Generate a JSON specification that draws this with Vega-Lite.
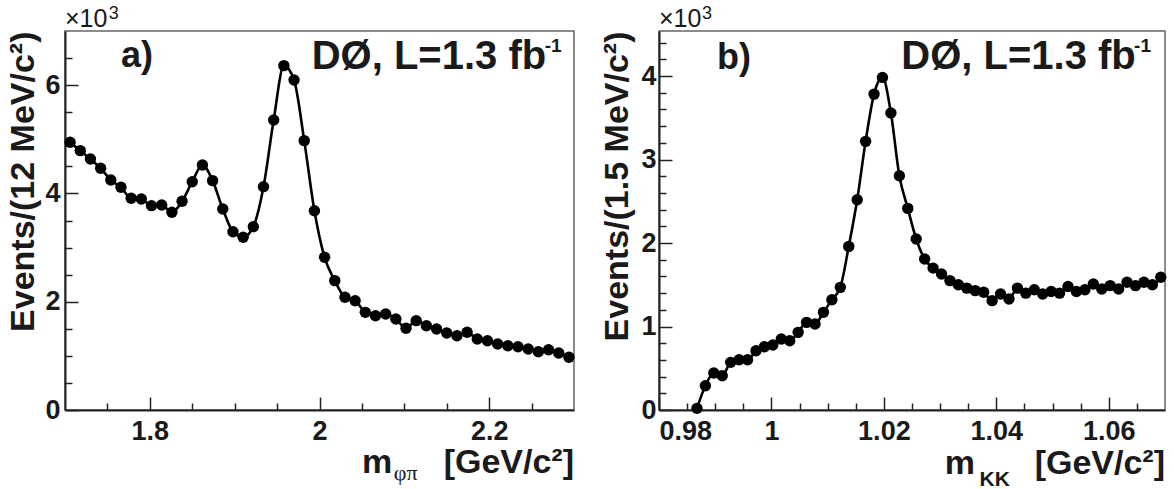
{
  "$schema": "https://vega.github.io/schema/vega-lite/v6.json",
  "background": "white",
  "padding": {"left": 6, "top": 4, "right": 6, "bottom": 2},
  "bounds": "flush",
  "spacing": 85,
  "config": {
    "font": "Liberation Sans",
    "view": {"stroke": "#666", "strokeWidth": 1.5},
    "axis": {
      "grid": false,
      "labelFont": "Liberation Sans",
      "labelFontWeight": "bold",
      "labelFontSize": 27,
      "labelColor": "#1a1a1a",
      "domainColor": "#222",
      "domainWidth": 2,
      "tickColor": "#222",
      "tickWidth": 1.5,
      "titleFont": "Liberation Sans",
      "titleFontWeight": "bold",
      "titleFontSize": 34,
      "titleColor": "#1a1a1a"
    },
    "text": {"font": "Liberation Sans", "fontWeight": "bold", "color": "#1a1a1a"}
  },
  "datasets": {
    "dsphi": [
      {"m": 1.706, "events": 4944}, {"m": 1.718, "events": 4790}, {"m": 1.730, "events": 4636},
      {"m": 1.742, "events": 4464}, {"m": 1.754, "events": 4248}, {"m": 1.766, "events": 4113},
      {"m": 1.778, "events": 3910}, {"m": 1.790, "events": 3897}, {"m": 1.802, "events": 3774},
      {"m": 1.814, "events": 3786}, {"m": 1.826, "events": 3651}, {"m": 1.838, "events": 3855},
      {"m": 1.850, "events": 4217}, {"m": 1.862, "events": 4525}, {"m": 1.874, "events": 4236},
      {"m": 1.886, "events": 3713}, {"m": 1.898, "events": 3293}, {"m": 1.910, "events": 3190},
      {"m": 1.922, "events": 3386}, {"m": 1.934, "events": 4125}, {"m": 1.946, "events": 5356},
      {"m": 1.958, "events": 6360}, {"m": 1.970, "events": 6095}, {"m": 1.982, "events": 4975},
      {"m": 1.994, "events": 3681}, {"m": 2.006, "events": 2820}, {"m": 2.018, "events": 2389},
      {"m": 2.030, "events": 2082}, {"m": 2.042, "events": 2019}, {"m": 2.054, "events": 1804},
      {"m": 2.066, "events": 1742}, {"m": 2.078, "events": 1773}, {"m": 2.090, "events": 1681},
      {"m": 2.102, "events": 1509}, {"m": 2.114, "events": 1650}, {"m": 2.126, "events": 1557},
      {"m": 2.138, "events": 1496}, {"m": 2.150, "events": 1422}, {"m": 2.162, "events": 1372},
      {"m": 2.174, "events": 1435}, {"m": 2.186, "events": 1311}, {"m": 2.198, "events": 1280},
      {"m": 2.210, "events": 1219}, {"m": 2.222, "events": 1188}, {"m": 2.234, "events": 1169},
      {"m": 2.246, "events": 1127}, {"m": 2.258, "events": 1077}, {"m": 2.270, "events": 1114},
      {"m": 2.282, "events": 1053}, {"m": 2.294, "events": 973}
    ],
    "kk": [
      {"m": 0.98675, "events": 20}, {"m": 0.98825, "events": 291}, {"m": 0.98975, "events": 443},
      {"m": 0.99125, "events": 411}, {"m": 0.99275, "events": 571}, {"m": 0.99425, "events": 602},
      {"m": 0.99575, "events": 602}, {"m": 0.99725, "events": 710}, {"m": 0.99875, "events": 758},
      {"m": 1.00025, "events": 778}, {"m": 1.00175, "events": 850}, {"m": 1.00325, "events": 830},
      {"m": 1.00475, "events": 930}, {"m": 1.00625, "events": 1050}, {"m": 1.00775, "events": 1030},
      {"m": 1.00925, "events": 1170}, {"m": 1.01075, "events": 1321}, {"m": 1.01225, "events": 1469},
      {"m": 1.01375, "events": 1960}, {"m": 1.01525, "events": 2519}, {"m": 1.01675, "events": 3218},
      {"m": 1.01825, "events": 3784}, {"m": 1.01975, "events": 3984}, {"m": 1.02125, "events": 3557},
      {"m": 1.02275, "events": 2806}, {"m": 1.02425, "events": 2415}, {"m": 1.02575, "events": 2048},
      {"m": 1.02725, "events": 1808}, {"m": 1.02875, "events": 1700}, {"m": 1.03025, "events": 1630},
      {"m": 1.03175, "events": 1550}, {"m": 1.03325, "events": 1500}, {"m": 1.03475, "events": 1460},
      {"m": 1.03625, "events": 1430}, {"m": 1.03775, "events": 1410}, {"m": 1.03925, "events": 1310},
      {"m": 1.04075, "events": 1390}, {"m": 1.04225, "events": 1330}, {"m": 1.04375, "events": 1460},
      {"m": 1.04525, "events": 1400}, {"m": 1.04675, "events": 1440}, {"m": 1.04825, "events": 1390},
      {"m": 1.04975, "events": 1420}, {"m": 1.05125, "events": 1400}, {"m": 1.05275, "events": 1480},
      {"m": 1.05425, "events": 1420}, {"m": 1.05575, "events": 1440}, {"m": 1.05725, "events": 1510},
      {"m": 1.05875, "events": 1450}, {"m": 1.06025, "events": 1490}, {"m": 1.06175, "events": 1450},
      {"m": 1.06325, "events": 1530}, {"m": 1.06475, "events": 1490}, {"m": 1.06625, "events": 1530},
      {"m": 1.06775, "events": 1500}, {"m": 1.06925, "events": 1590}
    ]
  },
  "hconcat": [
    {
      "width": 509,
      "height": 379,
      "data": {"name": "dsphi"},
      "resolve": {"axis": {"x": "independent", "y": "independent"}},
      "layer": [
        {
          "mark": {"type": "line", "color": "#000", "strokeWidth": 2.6, "interpolate": "monotone"},
          "encoding": {
            "x": {"field": "m", "type": "quantitative", "scale": {"domain": [1.7, 2.3], "nice": false, "zero": false},
              "axis": {"orient": "bottom", "values": [1.75, 1.85, 1.9, 1.95, 2.05, 2.1, 2.15, 2.25], "labels": false, "tickSize": -7, "domain": false, "title": null}},
            "y": {"field": "events", "type": "quantitative", "scale": {"domain": [0, 7000], "nice": false},
              "axis": {"orient": "left", "values": [500, 1000, 1500, 2500, 3000, 3500, 4500, 5000, 5500, 6500], "labels": false, "tickSize": -7, "domain": false, "title": null}}
          }
        },
        {
          "mark": {"type": "point", "filled": true, "color": "#000", "opacity": 1, "size": 130},
          "encoding": {
            "x": {"field": "m", "type": "quantitative", "scale": {"domain": [1.7, 2.3], "nice": false, "zero": false},
              "axis": {"orient": "bottom", "values": [1.8, 2, 2.2], "format": "~g", "tickSize": -13, "labelPadding": 21, "title": null}},
            "y": {"field": "events", "type": "quantitative", "scale": {"domain": [0, 7000], "nice": false},
              "axis": {"orient": "left", "values": [0, 2000, 4000, 6000], "labelExpr": "datum.value / 1000", "tickSize": -13, "labelPadding": 18,
                "title": "Events/(12 MeV/c²)", "titleAnchor": "end", "titlePadding": 4}}
          }
        },
        {
          "data": {"values": [{}]},
          "mark": {"type": "text", "text": "×10", "fontSize": 25, "fontWeight": "normal", "align": "left", "baseline": "alphabetic"},
          "encoding": {
            "x": {"datum": 1.7, "type": "quantitative", "scale": {"domain": [1.7, 2.3]}, "axis": null},
            "y": {"datum": 7074, "type": "quantitative", "scale": {"domain": [0, 7000]}, "axis": null}
          }
        },
        {
          "data": {"values": [{}]},
          "mark": {"type": "text", "text": "3", "fontSize": 18, "fontWeight": "normal", "align": "left", "baseline": "alphabetic"},
          "encoding": {
            "x": {"datum": 1.7515, "type": "quantitative", "scale": {"domain": [1.7, 2.3]}, "axis": null},
            "y": {"datum": 7222, "type": "quantitative", "scale": {"domain": [0, 7000]}, "axis": null}
          }
        },
        {
          "data": {"values": [{}]},
          "mark": {"type": "text", "text": "a)", "fontSize": 36, "align": "left", "baseline": "alphabetic"},
          "encoding": {
            "x": {"datum": 1.766, "type": "quantitative", "scale": {"domain": [1.7, 2.3]}, "axis": null},
            "y": {"datum": 6335, "type": "quantitative", "scale": {"domain": [0, 7000]}, "axis": null}
          }
        },
        {
          "data": {"values": [{}]},
          "mark": {"type": "text", "text": "DØ, L=1.3 fb", "fontSize": 40, "align": "right", "baseline": "alphabetic"},
          "encoding": {
            "x": {"datum": 2.2672, "type": "quantitative", "scale": {"domain": [1.7, 2.3]}, "axis": null},
            "y": {"datum": 6298, "type": "quantitative", "scale": {"domain": [0, 7000]}, "axis": null}
          }
        },
        {
          "data": {"values": [{}]},
          "mark": {"type": "text", "text": "-1", "fontSize": 19, "align": "left", "baseline": "alphabetic"},
          "encoding": {
            "x": {"datum": 2.2655, "type": "quantitative", "scale": {"domain": [1.7, 2.3]}, "axis": null},
            "y": {"datum": 6612, "type": "quantitative", "scale": {"domain": [0, 7000]}, "axis": null}
          }
        },
        {
          "data": {"values": [{}]},
          "mark": {"type": "text", "text": "m", "fontSize": 34, "align": "left", "baseline": "alphabetic"},
          "encoding": {
            "x": {"datum": 2.0502, "type": "quantitative", "scale": {"domain": [1.7, 2.3]}, "axis": null},
            "y": {"datum": -1170, "type": "quantitative", "scale": {"domain": [0, 7000]}, "axis": null}
          }
        },
        {
          "data": {"values": [{}]},
          "mark": {"type": "text", "text": "φπ", "font": "Liberation Serif", "fontSize": 22, "fontWeight": "normal", "align": "left", "baseline": "alphabetic"},
          "encoding": {
            "x": {"datum": 2.0875, "type": "quantitative", "scale": {"domain": [1.7, 2.3]}, "axis": null},
            "y": {"datum": -1285, "type": "quantitative", "scale": {"domain": [0, 7000]}, "axis": null}
          }
        },
        {
          "data": {"values": [{}]},
          "mark": {"type": "text", "text": "[GeV/c²]", "fontSize": 34, "align": "right", "baseline": "alphabetic"},
          "encoding": {
            "x": {"datum": 2.3, "type": "quantitative", "scale": {"domain": [1.7, 2.3]}, "axis": null},
            "y": {"datum": -1170, "type": "quantitative", "scale": {"domain": [0, 7000]}, "axis": null}
          }
        }
      ]
    },
    {
      "width": 506,
      "height": 379,
      "data": {"name": "kk"},
      "resolve": {"axis": {"x": "independent", "y": "independent"}},
      "layer": [
        {
          "mark": {"type": "line", "color": "#000", "strokeWidth": 2.6, "interpolate": "monotone"},
          "encoding": {
            "x": {"field": "m", "type": "quantitative", "scale": {"domain": [0.98, 1.07], "nice": false, "zero": false},
              "axis": {"orient": "bottom", "values": [0.985, 0.99, 0.995, 1.005, 1.01, 1.015, 1.025, 1.03, 1.035, 1.045, 1.05, 1.055, 1.065], "labels": false, "tickSize": -7, "domain": false, "title": null}},
            "y": {"field": "events", "type": "quantitative", "scale": {"domain": [0, 4540], "nice": false},
              "axis": {"orient": "left", "values": [200, 400, 600, 800, 1200, 1400, 1600, 1800, 2200, 2400, 2600, 2800, 3200, 3400, 3600, 3800, 4200, 4400], "labels": false, "tickSize": -7, "domain": false, "title": null}}
          }
        },
        {
          "mark": {"type": "point", "filled": true, "color": "#000", "opacity": 1, "size": 130},
          "encoding": {
            "x": {"field": "m", "type": "quantitative", "scale": {"domain": [0.98, 1.07], "nice": false, "zero": false},
              "axis": {"orient": "bottom", "values": [0.98, 1, 1.02, 1.04, 1.06], "format": "~g", "tickSize": -13, "labelPadding": 21, "title": null}},
            "y": {"field": "events", "type": "quantitative", "scale": {"domain": [0, 4540], "nice": false},
              "axis": {"orient": "left", "values": [0, 1000, 2000, 3000, 4000], "labelExpr": "datum.value / 1000", "tickSize": -13, "labelPadding": 16,
                "title": "Events/(1.5 MeV/c²)", "titleAnchor": "end", "titlePadding": 6}}
          }
        },
        {
          "data": {"values": [{}]},
          "mark": {"type": "text", "text": "×10", "fontSize": 25, "fontWeight": "normal", "align": "left", "baseline": "alphabetic"},
          "encoding": {
            "x": {"datum": 0.98, "type": "quantitative", "scale": {"domain": [0.98, 1.07]}, "axis": null},
            "y": {"datum": 4587, "type": "quantitative", "scale": {"domain": [0, 4540]}, "axis": null}
          }
        },
        {
          "data": {"values": [{}]},
          "mark": {"type": "text", "text": "3", "fontSize": 18, "fontWeight": "normal", "align": "left", "baseline": "alphabetic"},
          "encoding": {
            "x": {"datum": 0.98764, "type": "quantitative", "scale": {"domain": [0.98, 1.07]}, "axis": null},
            "y": {"datum": 4683, "type": "quantitative", "scale": {"domain": [0, 4540]}, "axis": null}
          }
        },
        {
          "data": {"values": [{}]},
          "mark": {"type": "text", "text": "b)", "fontSize": 36, "align": "left", "baseline": "alphabetic"},
          "encoding": {
            "x": {"datum": 0.9903, "type": "quantitative", "scale": {"domain": [0.98, 1.07]}, "axis": null},
            "y": {"datum": 4084, "type": "quantitative", "scale": {"domain": [0, 4540]}, "axis": null}
          }
        },
        {
          "data": {"values": [{}]},
          "mark": {"type": "text", "text": "DØ, L=1.3 fb", "fontSize": 40, "align": "right", "baseline": "alphabetic"},
          "encoding": {
            "x": {"datum": 1.0648, "type": "quantitative", "scale": {"domain": [0.98, 1.07]}, "axis": null},
            "y": {"datum": 4084, "type": "quantitative", "scale": {"domain": [0, 4540]}, "axis": null}
          }
        },
        {
          "data": {"values": [{}]},
          "mark": {"type": "text", "text": "-1", "fontSize": 19, "align": "left", "baseline": "alphabetic"},
          "encoding": {
            "x": {"datum": 1.0645, "type": "quantitative", "scale": {"domain": [0.98, 1.07]}, "axis": null},
            "y": {"datum": 4287, "type": "quantitative", "scale": {"domain": [0, 4540]}, "axis": null}
          }
        },
        {
          "data": {"values": [{}]},
          "mark": {"type": "text", "text": "m", "fontSize": 34, "align": "left", "baseline": "alphabetic"},
          "encoding": {
            "x": {"datum": 1.03084, "type": "quantitative", "scale": {"domain": [0.98, 1.07]}, "axis": null},
            "y": {"datum": -770, "type": "quantitative", "scale": {"domain": [0, 4540]}, "axis": null}
          }
        },
        {
          "data": {"values": [{}]},
          "mark": {"type": "text", "text": "KK", "fontSize": 21, "align": "left", "baseline": "alphabetic"},
          "encoding": {
            "x": {"datum": 1.03700, "type": "quantitative", "scale": {"domain": [0.98, 1.07]}, "axis": null},
            "y": {"datum": -915, "type": "quantitative", "scale": {"domain": [0, 4540]}, "axis": null}
          }
        },
        {
          "data": {"values": [{}]},
          "mark": {"type": "text", "text": "[GeV/c²]", "fontSize": 34, "align": "right", "baseline": "alphabetic"},
          "encoding": {
            "x": {"datum": 1.07, "type": "quantitative", "scale": {"domain": [0.98, 1.07]}, "axis": null},
            "y": {"datum": -770, "type": "quantitative", "scale": {"domain": [0, 4540]}, "axis": null}
          }
        }
      ]
    }
  ]
}
